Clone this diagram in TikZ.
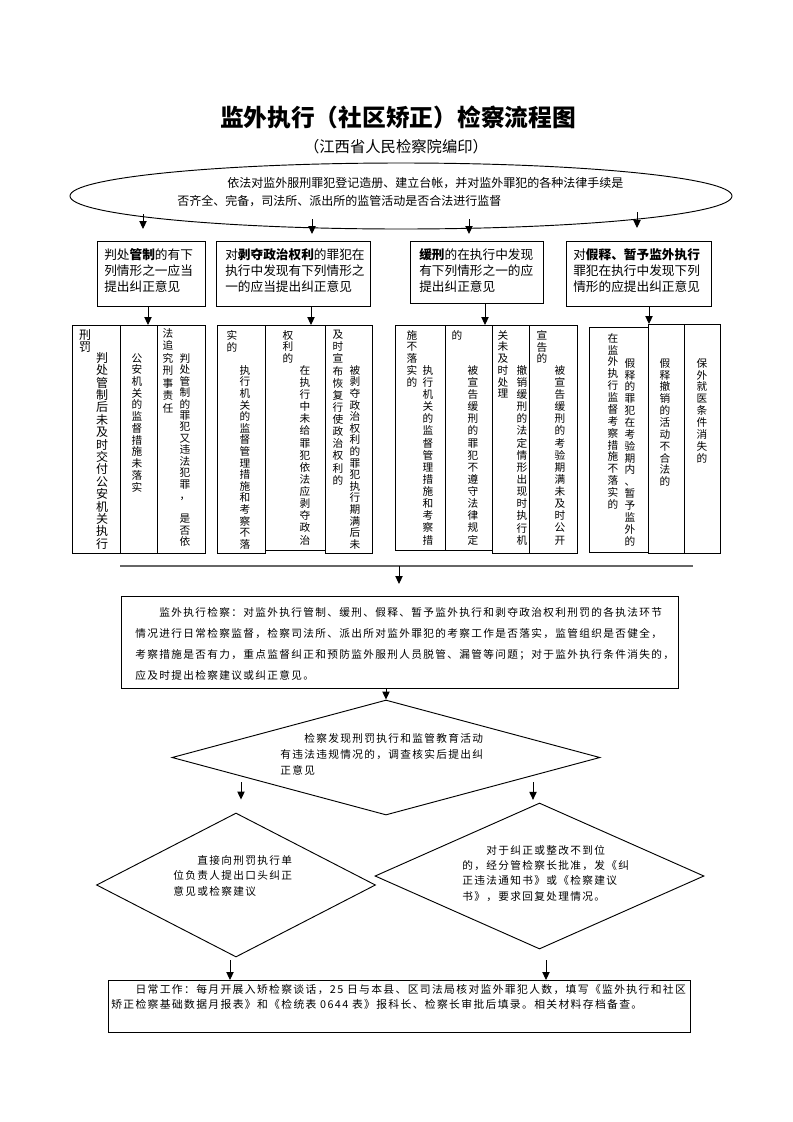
\documentclass[tikz,border=0pt]{standalone}
\usepackage{fontspec}
\setmainfont{Noto Sans CJK SC}
\newfontfamily\lsfont{Noto Sans CJK SC}[LetterSpace=12.5]
\usetikzlibrary{arrows.meta,shapes.geometric}
\def\vchsplit#1{\ifx#1\relax\else\hbox to 1em{\hss#1\hss}\expandafter\vchsplit\fi}
\newcommand\vcol[2]{\vtop{\baselineskip=#1\relax\lineskip=0pt\relax\lineskiplimit=-100pt\relax\vchsplit#2\relax}}
\def\vgap{\kern0pt}
\newcommand\mkbox[5]{\node[bx,minimum width={(#4-#2)*0.75pt},minimum height={(#5-#3)*0.75pt}] (#1) at (#2,#3) {};}
\begin{document}
\begin{tikzpicture}[x=0.75pt,y=-0.75pt,
  arr/.style={line width=0.7pt,-{Triangle[length=6pt,width=5.5pt]}},
  bx/.style={draw,line width=0.7pt,inner sep=0pt,anchor=north west},
  dia/.style={draw,diamond,line width=0.7pt,inner sep=0pt},
  vt/.style={inner sep=0pt,anchor=north,font=\fontsize{8}{8}\selectfont},
  vtb/.style={inner sep=0pt,anchor=north,font=\fontsize{9}{9}\selectfont},
  tx/.style={inner sep=0pt,anchor=north west,align=left},
  btx/.style={tx,font=\fontsize{9.5}{12}\selectfont},
  stx/.style={tx,font={\lsfont\fontsize{8}{12}\selectfont}}]
\fill[white] (0,0) rectangle (793,1122);
\useasboundingbox (0,0) rectangle (793,1122);

% title
\node[font=\fontsize{17.8}{20}\selectfont\bfseries] (title) at (398,117) {监外执行（社区矫正）检察流程图};
\node[font=\fontsize{11.5}{14}\selectfont] (sub) at (396,147) {（江西省人民检察院编印）};

% ellipse
\node[draw,ellipse,line width=0.7pt,inner sep=0pt,minimum width={662*0.75pt},minimum height={66*0.75pt}] (ell) at (401,196) {};
\node[tx,font=\fontsize{9}{13.5}\selectfont] (etext) at (177,177) {\hspace*{37.5pt}依法对监外服刑罪犯登记造册、建立台帐，并对监外罪犯的各种法律手续是\\否齐全、完备，司法所、派出所的监管活动是否合法进行监督};

% four boxes
\mkbox{bA}{97}{241}{205}{306}
\mkbox{bB}{216}{241}{370}{306}
\mkbox{bC}{410}{241}{543}{303}
\mkbox{bD}{566}{241}{711}{306}
\node[btx] (tA) at (104,248) {判处\textbf{管制}的有下\\列情形之一应当\\提出纠正意见};
\node[btx] (tB) at (225,248) {对\textbf{剥夺政治权利}的罪犯在\\执行中发现有下列情形之\\一的应当提出纠正意见};
\node[btx] (tC) at (419,248) {\textbf{缓刑}的在执行中发现\\有下列情形之一的应\\提出纠正意见};
\node[btx] (tD) at (573,248) {对\textbf{假释、暂予监外执行}\\罪犯在执行中发现下列\\情形的应提出纠正意见};

% arrows from ellipse
\coordinate (e1) at (143,214); \coordinate (t1) at (143,229);
\coordinate (e2) at (312,219); \coordinate (t2) at (312,234);
\coordinate (e3) at (469,219); \coordinate (t3) at (469,234);
\coordinate (e4) at (637,212); \coordinate (t4) at (637,228);
\draw[arr] (e1) -- (t1);
\draw[arr] (e2) -- (t2);
\draw[arr] (e3) -- (t3);
\draw[arr] (e4) -- (t4);

% vertical boxes
\mkbox{g1a}{72}{325}{120}{553}
\mkbox{g1b}{120}{325}{157}{553}
\mkbox{g1c}{157}{325}{205}{553}
\mkbox{g2a}{217}{325}{265}{553}
\mkbox{g2b}{265}{325}{325}{550}
\mkbox{g2c}{325}{325}{372}{553}
\mkbox{g3a}{395}{325}{445}{550}
\mkbox{g3b}{445}{325}{492}{550}
\mkbox{g3c}{492}{325}{529}{553}
\mkbox{g3d}{529}{325}{577}{553}
\mkbox{g4a}{589}{327}{648}{552}
\mkbox{g4b}{648}{324}{684}{553}
\mkbox{g4c}{684}{324}{720}{553}

\coordinate (l1) at (148,0);
\coordinate (l2) at (311,0);
\coordinate (l3) at (485,0);
\coordinate (l4) at (649,0);
\draw[arr] (bA.south -| l1) -- (g1b.north -| l1);
\draw[arr] (bB.south -| l2) -- (g2b.north -| l2);
\draw[arr] (bC.south -| l3) -- (g3b.north -| l3);
\draw[arr] (bD.south -| l4) -- (g4b.north -| l4);

% vertical texts
\node[vtb] (c1) at (102,352) {\vcol{9.3pt}{判处管制后未及时交付公安机关执行}};
\node[vtb] (c2) at (85,329) {\vcol{9.6pt}{刑罚}};
\node[vt] (c3) at (137,353) {\vcol{8.8pt}{公安机关的监督措施未落实}};
\node[vt] (c4) at (185,353) {\vcol{8.6pt}{判处管制的罪犯又违法犯罪，\vgap 是否依}};
\node[vt] (c5) at (168,328) {\vcol{9.4pt}{法追究刑事责任}};
\node[vt] (c6) at (245,365) {\vcol{8.7pt}{执行机关的监督管理措施和考察不落}};
\node[vt] (c7) at (232,330) {\vcol{8.8pt}{实的}};
\node[vt] (c8) at (305,365) {\vcol{9.1pt}{在执行中未给罪犯依法应剥夺政治}};
\node[vt] (c9) at (288,330) {\vcol{8.8pt}{权利的}};
\node[vt] (c10) at (355,365) {\vcol{8.7pt}{被剥夺政治权利的罪犯执行期满后未}};
\node[vt] (c11) at (338,330) {\vcol{9.1pt}{及时宣布恢复行使政治权利的}};
\node[vt] (c12) at (428,365) {\vcol{9.1pt}{执行机关的监督管理措施和考察措}};
\node[vt] (c13) at (412,330) {\vcol{8.8pt}{施不落实的}};
\node[vt] (c14) at (473,365) {\vcol{9.1pt}{被宣告缓刑的罪犯不遵守法律规定}};
\node[vt] (c15) at (457,330) {\vcol{8.8pt}{的}};
\node[vt] (c16) at (522,365) {\vcol{9.1pt}{撤销缓刑的法定情形出现时执行机}};
\node[vt] (c17) at (503,330) {\vcol{8.8pt}{关未及时处理}};
\node[vt] (c18) at (560,365) {\vcol{9.1pt}{被宣告缓刑的考验期满未及时公开}};
\node[vt] (c19) at (542,330) {\vcol{8.8pt}{宣告的}};
\node[vt] (c20) at (630,358) {\vcol{8.9pt}{假释的罪犯在考验期内、暂予监外的}};
\node[vt] (c21) at (613,333) {\vcol{8.9pt}{在监外执行监督考察措施不落实的}};
\node[vt] (c22) at (665,358) {\vcol{8.9pt}{假释撤销的活动不合法的}};
\node[vt] (c23) at (702,358) {\vcol{8.9pt}{保外就医条件消失的}};

% separator line and main box
\coordinate (h1) at (120,566);
\coordinate (h2) at (693,566);
\draw[line width=0.8pt,black!60] (h1) -- (h2);
\mkbox{mbox}{121}{596}{678}{688}
\coordinate (h3) at (399,566);
\draw[arr,shorten >=9pt] (h3) -- (h3 |- mbox.north);
\node[tx,font={\lsfont\fontsize{8}{15.75}\selectfont}] (mtext) at (135,607) {\hspace*{18pt}监外执行检察：对监外执行管制、缓刑、假释、暂予监外执行和剥夺政治权利刑罚的各执法环节\\情况进行日常检察监督，检察司法所、派出所对监外罪犯的考察工作是否落实，监管组织是否健全，\\考察措施是否有力，重点监督纠正和预防监外服刑人员脱管、漏管等问题；对于监外执行条件消失的，\\应及时提出检察建议或纠正意见。};

% big diamond
\node[dia,aspect=3.72,minimum width={428*0.75pt},minimum height={115*0.75pt}] (dm) at (386,757.5) {};
\draw[arr] (dm.north |- mbox.south) -- (dm.north);
\node[stx] (dmt) at (280,733) {\hspace*{18pt}检察发现刑罚执行和监管教育活动\\有违法违规情况的，调查核实后提出纠\\正意见};

% lower diamonds
\node[dia,aspect=1.94,minimum width={279*0.75pt},minimum height={144*0.75pt}] (dl) at (236,885) {};
\node[dia,aspect=2.25,minimum width={329*0.75pt},minimum height={146*0.75pt}] (dr) at (539.5,876) {};
\coordinate (d1) at (241,782);
\coordinate (d2) at (533,782);
\draw[arr,shorten >=9.75pt] (d1) -- (d1 |- dl.north);
\draw[arr,shorten >=2pt] (d2) -- (d2 |- dr.north);
\node[tx,font={\lsfont\fontsize{8}{11.6}\selectfont}] (dlt) at (173,855) {\hspace*{18pt}直接向刑罚执行单\\位负责人提出口头纠正\\意见或检察建议};
\node[tx,font={\lsfont\fontsize{8}{11.5}\selectfont}] (drt) at (462,845) {\hspace*{18pt}对于纠正或整改不到位\\的，经分管检察长批准，发《纠\\正违法通知书》或《检察建议\\书》，要求回复处理情况。};

% bottom box
\mkbox{bb}{108}{980}{690}{1032}
\coordinate (u1) at (230,960);
\coordinate (u2) at (546,960);
\draw[arr] (u1) -- (u1 |- bb.north);
\draw[arr] (u2) -- (u2 |- bb.north);
\node[tx,font={\lsfont\fontsize{8.1}{11.25}\selectfont}] (bbt) at (111,984) {\hspace*{18.2pt}日常工作：每月开展入矫检察谈话，25 日与本县、区司法局核对监外罪犯人数，填写《监外执行和社区\\矫正检察基础数据月报表》和《检统表 0644 表》报科长、检察长审批后填录。相关材料存档备查。};
\end{tikzpicture}
\end{document}
